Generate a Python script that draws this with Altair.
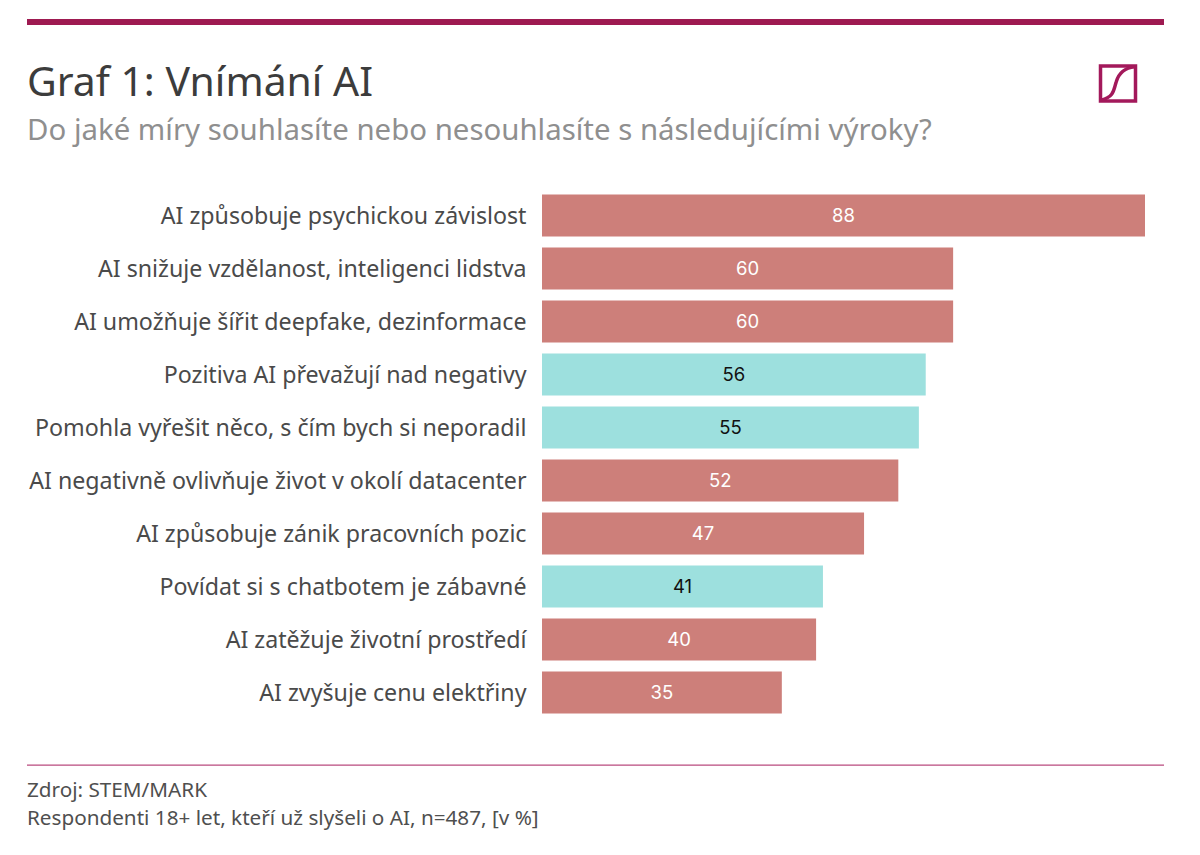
import altair as alt
import pandas as pd

categories = [
    "AI způsobuje psychickou závislost",
    "AI snižuje vzdělanost, inteligenci lidstva",
    "AI umožňuje šířit deepfake, dezinformace",
    "Pozitiva AI převažují nad negativy",
    "Pomohla vyřešit něco, s čím bych si neporadil",
    "AI negativně ovlivňuje život v okolí datacenter",
    "AI způsobuje zánik pracovních pozic",
    "Povídat si s chatbotem je zábavné",
    "AI zatěžuje životní prostředí",
    "AI zvyšuje cenu elektřiny",
]
values = [88, 60, 60, 56, 55, 52, 47, 41, 40, 35]
tone = ["neg", "neg", "neg", "pos", "pos", "neg", "neg", "pos", "neg", "neg"]

title_text = "Graf 1: Vnímání AI"
subtitle_text = "Do jaké míry souhlasíte nebo nesouhlasíte s následujícími výroky?"
source_lines = ["Zdroj: STEM/MARK", "Respondenti 18+ let, kteří už slyšeli o AI, n=487, [v %]"]

FONT = "Noto Sans"
NUMFONT = "Inter"
LEFT, TOP = 534, 181
df = pd.DataFrame({"category": categories, "value": values, "tone": tone})

x_scale = alt.Scale(domain=[0, 88], nice=False, zero=True)
y_enc = alt.Y("category:N", sort=categories, title=None,
              scale=alt.Scale(paddingInner=11 / 53, paddingOuter=5.5 / 53),
              axis=alt.Axis(domain=False, ticks=False, labelLimit=530, labelPadding=16, labelOffset=1,
                            labelFont=FONT, labelFontSize=23.2, labelColor="#4a4a4a"))

base = alt.Chart(df)
bars = base.mark_bar().encode(
    x=alt.X("value:Q", scale=x_scale, axis=None),
    y=y_enc,
    color=alt.Color("tone:N", legend=None,
                    scale=alt.Scale(domain=["neg", "pos"], range=["#CD7F7A", "#9DE0DE"])),
)
labels = base.transform_calculate(mid="datum.value / 2").mark_text(
    font=NUMFONT, fontSize=18.5, baseline="middle", align="center", fontWeight=400
).encode(
    x=alt.X("mid:Q", scale=x_scale, axis=None),
    y=alt.Y("category:N", sort=categories),
    text=alt.Text("value:Q"),
    color=alt.Color("tone:N", legend=None,
                    scale=alt.Scale(domain=["neg", "pos"], range=["#ffffff", "#111111"])),
)

one = alt.Data(values=[{}])
top_rule = alt.Chart(one).mark_rect(color="#9E1A51").encode(
    x=alt.value(27 - 8 - LEFT), x2=alt.value(1164 - 8 - LEFT),
    y=alt.value(19 - 8 - TOP), y2=alt.value(25 - 8 - TOP))
bottom_rule = alt.Chart(one).mark_rect(color="#B94A7E").encode(
    x=alt.value(27 - 8 - LEFT), x2=alt.value(1164 - 8 - LEFT),
    y=alt.value(764.5 - 8 - TOP), y2=alt.value(765.8 - 8 - TOP))

logo_box = alt.Chart(one).mark_point(shape="square", filled=False, stroke="#A3195B",
                                     strokeWidth=3.5, size=35 ** 2, opacity=1).encode(
    x=alt.value(1118 - 8 - LEFT), y=alt.value(83.5 - 8 - TOP))
logo_curve = alt.Chart(one).mark_point(
    shape="M -0.95 0.95 C -0.2 0.75 -0.25 0.35 -0.1 -0.1 C 0.05 -0.6 0.4 -0.9 0.95 -0.95",
    filled=False, stroke="#A3195B", strokeWidth=3.5, size=35 ** 2, opacity=1).encode(
    x=alt.value(1118 - 8 - LEFT), y=alt.value(83.5 - 8 - TOP))

def text_line(line, xpos, ypos, size, color):
    return alt.Chart(pd.DataFrame({"t": [line]})).mark_text(
        font=FONT, fontSize=size, color=color, align="left", baseline="alphabetic"
    ).encode(x=alt.value(xpos - 8 - LEFT), y=alt.value(ypos - 8 - TOP), text="t:N")

chart = alt.layer(
    bars, labels, top_rule, bottom_rule, logo_box, logo_curve,
    text_line(title_text, 27, 96, 40.9, "#3c3c3c"),
    text_line(subtitle_text, 27, 140, 29.4, "#8f8f8f"),
    text_line(source_lines[0], 27, 797, 20.7, "#4f4f4f"),
    text_line(source_lines[1], 27, 825, 20.7, "#4f4f4f"),
).properties(
    width=603, height=530,
    padding={"left": LEFT, "top": TOP, "right": 47, "bottom": 130},
    autosize="none", background="white",
).resolve_scale(color="independent").configure_view(strokeWidth=0, stroke="transparent")

chart.save("out.html", embed_options={"renderer": "svg", "actions": False})
